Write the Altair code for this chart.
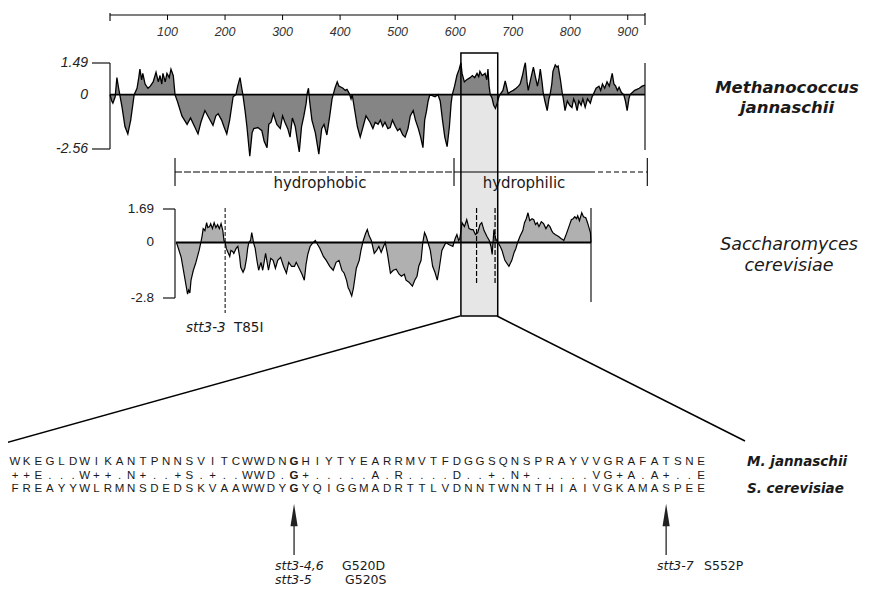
import altair as alt
import pandas as pd

W, H = 856, 578


def cx(px):
    return px - 8


def cy(py):
    return py - 8


SANS = "Liberation Sans"
WIDE = "DejaVu Sans"

# ---------------- data ----------------
ruler_ticks = [100, 200, 300, 400, 500, 600, 700, 800, 900]
mj_len = 930
sc_len = 718

mj_pos = [0, 3, 5, 9, 12, 15, 17, 21, 26, 31, 36, 42, 47, 50, 52, 55, 57, 61, 66, 70, 75, 80, 84, 87, 90, 92, 96, 99,
          103, 106, 110, 113, 117, 125, 134, 140, 147, 153, 158, 165, 172, 179, 184, 188, 194, 198, 203, 208, 214, 219,
          222, 226, 229, 231, 235, 238, 243, 247, 250, 257, 264, 268, 273, 276, 280, 284, 290, 296, 300, 304, 309, 313,
          317, 322, 326, 329, 333, 337, 341, 343, 345, 347, 351, 357, 363, 368, 372, 377, 382, 386, 388, 391, 395, 398,
          402, 405, 409, 412, 416, 419, 421, 424, 430, 435, 440, 445, 452, 457, 461, 466, 470, 474, 478, 483, 487, 491,
          496, 500, 504, 509, 513, 518, 522, 527, 531, 536, 540, 544, 547, 550, 553, 556, 565, 570, 574, 578, 582, 586,
          590, 593, 595, 599, 603, 607, 610, 612, 616, 620, 626, 630, 634, 638, 641, 643, 647, 652, 655, 657, 659, 661,
          664, 667, 670, 673, 676, 678, 683, 687, 690, 692, 697, 701, 706, 710, 713, 717, 720, 722, 725, 727, 731, 736,
          739, 743, 746, 748, 751, 753, 756, 760, 763, 765, 768, 770, 774, 777, 779, 783, 786, 788, 791, 795, 799, 803,
          806, 809, 812, 815, 819, 822, 826, 830, 835, 838, 840, 845, 850, 853, 856, 860, 864, 868, 873, 876, 879, 882,
          885, 889, 893, 896, 899, 902, 904, 908, 912, 916, 920, 925, 930]
mj_hyd = [0, -0.3, -0.4, -0.1, 0.8, 0.3, 0, -0.6, -1.5, -1.85, -1.2, 0, 0.3, 0.8, 1.2, 0.7, 1.0, 0.5, 0.3, 0.4, 0.6,
          1.05, 0.6, 0.9, 0.5, 1.0, 0.6, 1.0, 0.8, 1.2, 0.9, 0, -0.3, -1.0, -1.4, -1.1, -1.5, -1.85, -1.3, -0.75, -1.1,
          -1.45, -1.0, -0.9, -1.2, -1.5, -1.85, -1.2, -0.1, 0, 0.4, 0.8, 0.3, 0, -0.8, -1.5, -2.9, -1.8, -1.6, -1.55,
          -1.7, -2.2, -2.5, -1.4, -1.3, -0.9, -1.4, -1.6, -1.0, -1.3, -1.6, -2.0, -1.1, -1.5, -2.2, -2.7, -1.5, -1.0,
          -0.4, 0.1, 0.3, -0.3, -1.2, -1.8, -2.8, -1.6, -1.4, -1.9, -1.0, -0.2, 0, 0.3, 0.6, 0.4, 0.35, 0.3, 0.2, 0.25,
          0.05, -0.2, 0, -0.5, -1.5, -2.0, -1.5, -1.0, -1.3, -1.6, -1.3, -1.4, -1.2, -1.5, -1.3, -1.6, -1.55, -1.2,
          -1.5, -1.7, -1.6, -1.9, -2.0, -1.6, -1.0, -0.75, -1.2, -1.6, -2.0, -2.5, -1.2, -0.8, -0.3, 0, -0.1, 0, -0.3,
          -1.2, -2.0, -2.45, -1.5, -0.4, 0, 0.4, 0.9, 1.2, 1.5, 1.0, 0.6, 0.7, 0.8, 0.9, 0.8, 1.0, 0.85, 1.1, 0.9, 1.0,
          0.7, 1.2, 0.4, 0, -0.15, -0.5, -0.65, -0.4, -0.1, 0, 0.2, 0.65, 0.3, 0.05, 0.15, 0.2, 0.3, 0.4, 0.5, 0.9,
          1.3, 1.5, 0.6, 0.2, 0.7, 1.3, 0.9, 0.4, 0.8, 1.2, 0.6, 0.1, -0.3, -0.75, -0.2, 0, 0.5, 1.1, 1.4, 1.3, 1.35,
          0.7, 0.1, -0.2, -0.75, -0.3, -0.5, -0.6, -0.2, -0.4, -0.75, -0.3, -0.5, -0.2, -0.6, -0.2, -0.4, -0.1, 0, 0.3,
          0.4, 0.2, 0.5, 0.3, 0.6, 0.4, 1.0, 0.5, 0.4, 0.2, 0.35, 0.1, 0, -0.3, -0.75, -0.2, 0, 0.1, 0.2, 0.25, 0.3,
          0.4, 0.45]

sc_pos = [0, 2, 9, 14, 17, 20, 22, 24, 26, 30, 34, 40, 43, 45, 47, 50, 53, 55, 58, 60, 63, 66, 69, 72, 75, 78, 81,
          83, 85, 87, 90, 93, 95, 98, 100, 104, 107, 110, 112, 116, 119, 122, 124, 126, 129, 131, 133, 134, 137, 140,
          143, 147, 150, 153, 155, 160, 164, 168, 172, 176, 181, 186, 191, 195, 200, 205, 208, 213, 218, 222, 225,
          228, 232, 236, 241, 245, 249, 255, 260, 266, 272, 277, 282, 287, 291, 295, 298, 300, 304, 307, 312, 317,
          320, 324, 328, 331, 334, 338, 343, 347, 351, 355, 359, 362, 366, 371, 376, 381, 386, 390, 395, 398, 403,
          409, 413, 417, 420, 424, 427, 430, 433, 436, 440, 444, 448, 452, 455, 460, 467, 472, 479, 483, 486, 489,
          491, 495, 499, 503, 507, 511, 514, 518, 522, 526, 529, 533, 538, 542, 545, 547, 549, 550, 553, 557, 561,
          564, 569, 576, 581, 585, 588, 591, 595, 600, 603, 606, 609, 612, 616, 619, 622, 625, 628, 632, 636, 640,
          644, 647, 650, 652, 656, 659, 662, 666, 669, 671, 675, 678, 681, 684, 687, 690, 693, 695, 698, 702, 705,
          709, 712, 715, 717, 718]
sc_hyd = [0, -0.1, -0.75, -1.6, -2.1, -2.6, -2.4, -2.55, -1.9, -1.4, -1.05, -0.4, 0, 0.3, 0.7, 0.6, 1.0, 0.75, 0.8,
          0.95, 0.7, 1.0, 0.75, 0.9, 0.7, 0.95, 0.6, 0.1, 0, -0.3, -0.5, -0.7, -0.4, -0.45, -0.55, -0.3, -0.2, -0.7,
          -1.25, -1.5, -1.3, -0.8, -0.3, 0, 0.1, 0.5, 0.2, 0, -0.3, -0.9, -1.4, -1.0, -1.4, -0.9, -0.55, -1.4, -0.8,
          -0.9, -1.3, -0.9, -0.75, -1.2, -1.55, -1.0, -1.2, -1.2, -1.0, -1.3, -1.6, -1.9, -1.1, -0.6, -0.2, -0.05,
          0.1, -0.1, -0.3, -0.7, -0.9, -1.2, -1.4, -1.0, -0.9, -1.4, -1.55, -1.9, -2.3, -2.4, -2.7, -2.3, -1.3, -0.9,
          -0.4, 0.1, 0.45, 0.65, 0.35, 0.1, -0.55, -0.4, -0.2, -0.5, -0.2, 0, -0.6, -1.55, -1.4, -1.35, -1.6, -1.7,
          -1.6, -1.9, -2.0, -2.2, -1.9, -1.7, -1.2, -0.9, 0, 0.5, 0.3, 0, -0.4, -1.2, -1.5, -1.9, -1.4, -0.4, 0, -0.1,
          -0.2, 0.2, 0.4, 0.1, 0.2, 1.0, 0.8, 1.15, 0.7, 0.65, 0.65, 0.4, 0.5, 0.9, 1.0, 0.6, 0.3, 0.1, -0.2, -0.6,
          0.2, 0.65, 0.2, 0, -0.2, -0.4, -0.9, -1.2, -0.9, -0.5, -0.3, 0, 0.3, 0.6, 1.0, 1.2, 1.5, 1.1, 1.2, 1.15,
          0.9, 1.0, 0.8, 1.05, 0.95, 0.7, 0.9, 0.8, 0.6, 0.5, 0.4, 0.35, 0.3, 0.2, 0.15, 0.1, 0.4, 0.65, 0.9, 1.15,
          1.2, 1.3, 1.2, 1.35, 1.1, 1.5, 1.3, 1.25, 1.0, 0.7, 0.5, 0]

mj_axis_vals = [1.49, 0, -2.56]
mj_axis_text = ["1.49", "0", "-2.56"]
sc_axis_vals = [1.69, 0, -2.8]
sc_axis_text = ["1.69", "0", "-2.8"]
sc_mutation_t85 = [85]
sc_mutations_box = [520, 552]
box_range = [610, 674]
bracket_split = [113, 598, 934]

mj_align = "WKEGLDWIKANTPNNSVITCWWDNGHIYTYEARRMVTFDGGSQNSPRAYVVGRAFATSNE"
match_align = "++E...W++.N+..+S.+..WWD.G+.....A.R....D..+.N+.....VG+A.A+..E"
sc_align = "FREAYYWLRMNSDEDSKVAAWWDYGYQIGGMADRTTLVDNNTWNNTHIAIVGKAMASPEE"
arrow_cols = [25, 57]

# ---------------- scales ----------------
MJ_X = alt.Scale(domain=[0, mj_len], range=[cx(110), cx(645)], nice=False, zero=False)
SC_X = alt.Scale(domain=[0, sc_len], range=[cx(176), cx(591)], nice=False, zero=False)
MJ_Y = alt.Scale(domain=[-2.56, 1.49], range=[cy(149), cy(63)], nice=False, zero=False)
SC_Y = alt.Scale(domain=[-2.8, 1.69], range=[cy(298), cy(209)], nice=False, zero=False)
COL_X = alt.Scale(domain=[1, 60], range=[cx(15), cx(701)], nice=False, zero=False)

one = pd.DataFrame({"d": [0]})


def seg(x1, y1, x2, y2, width=1.2, dash=None, color="black"):
    props = dict(color=color, strokeWidth=width)
    if dash:
        props["strokeDash"] = dash
    return alt.Chart(one).mark_rule(**props).encode(
        x=alt.value(cx(x1)), y=alt.value(cy(y1)), x2=alt.value(cx(x2)), y2=alt.value(cy(y2)))


def label(txt, x, y, size=12, style="normal", weight="normal", align="left", color="#1a1a1a", font=SANS):
    return alt.Chart(pd.DataFrame({"t": [txt]})).mark_text(
        align=align, baseline="middle", fontSize=size, fontStyle=style, fontWeight=weight,
        font=font, color=color).encode(x=alt.value(cx(x)), y=alt.value(cy(y)), text="t:N")


layers = []

# stippled zoom window (background)
box_df = pd.DataFrame({"a": [box_range[0]], "b": [box_range[1]]})
layers.append(alt.Chart(box_df).mark_rect(color="#e6e6e6").encode(
    x=alt.X("a:Q", scale=MJ_X, axis=None), x2="b:Q",
    y=alt.value(cy(94)), y2=alt.value(cy(316))))

# top ruler
layers.append(seg(110, 15, 645, 15, width=1.1))
rt = pd.DataFrame({"p": ruler_ticks, "t": [str(v) for v in ruler_ticks]})
layers.append(alt.Chart(rt).mark_rule(color="black", strokeWidth=1).encode(
    x=alt.X("p:Q", scale=MJ_X, axis=None), y=alt.value(cy(15)), y2=alt.value(cy(20))))
layers.append(alt.Chart(rt).mark_text(fontSize=12.5, fontStyle="italic", font=SANS, color="#333",
                                      baseline="middle").encode(
    x=alt.X("p:Q", scale=MJ_X, axis=None), y=alt.value(cy(32)), text="t:N"))
layers.append(seg(645, 13, 645, 25, width=1.1))
layers.append(seg(110, 13, 110, 21, width=1.1))

# M. jannaschii hydropathy
mj_df = pd.DataFrame({"pos": mj_pos, "hyd": mj_hyd, "zero": [0] * len(mj_pos)})
layers.append(alt.Chart(mj_df).mark_area(color="#858585").encode(
    x=alt.X("pos:Q", scale=MJ_X, axis=None), y=alt.Y("hyd:Q", scale=MJ_Y, axis=None), y2="zero:Q"))
layers.append(alt.Chart(mj_df).mark_line(color="black", strokeWidth=1.3).encode(
    x=alt.X("pos:Q", scale=MJ_X, axis=None), y=alt.Y("hyd:Q", scale=MJ_Y, axis=None)))
layers.append(alt.Chart(pd.DataFrame({"a": [0], "b": [mj_len], "z": [0]})).mark_rule(
    color="black", strokeWidth=1.8).encode(
    x=alt.X("a:Q", scale=MJ_X, axis=None), x2="b:Q", y=alt.Y("z:Q", scale=MJ_Y, axis=None)))
mja = pd.DataFrame({"v": mj_axis_vals, "t": mj_axis_text})
layers.append(alt.Chart(mja).mark_text(fontSize=14, fontStyle="italic", font=SANS, color="#222",
                                       align="right", baseline="middle").encode(
    x=alt.value(cx(88)), y=alt.Y("v:Q", scale=MJ_Y, axis=None), text="t:N"))
layers.append(alt.Chart(mja[mja.v != 0]).mark_rule(color="black", strokeWidth=1.1).encode(
    x=alt.value(cx(92)), x2=alt.value(cx(110)), y=alt.Y("v:Q", scale=MJ_Y, axis=None)))
layers.append(seg(110, 63, 110, 149, width=1.1))
layers.append(seg(645, 63, 645, 150, width=1.1))

# hydrophobic / hydrophilic bracket
layers.append(seg(175, 172, 454, 172, width=1.1, dash=[7, 2]))
layers.append(seg(454, 172, 590, 172, width=1.1))
layers.append(seg(590, 172, 647, 172, width=1.1, dash=[5, 3]))
bs = pd.DataFrame({"p": bracket_split})
layers.append(alt.Chart(bs).mark_rule(color="black", strokeWidth=1.1).encode(
    x=alt.X("p:Q", scale=MJ_X, axis=None), y=alt.value(cy(158)), y2=alt.value(cy(186))))
layers.append(label("hydrophobic", 320, 183, size=15, align="center", font=WIDE))
layers.append(label("hydrophilic", 524, 183, size=15, align="center", font=WIDE))

# S. cerevisiae hydropathy
sc_df = pd.DataFrame({"pos": sc_pos, "hyd": sc_hyd, "zero": [0] * len(sc_pos)})
layers.append(alt.Chart(sc_df).mark_area(color="#b0b0b0").encode(
    x=alt.X("pos:Q", scale=SC_X, axis=None), y=alt.Y("hyd:Q", scale=SC_Y, axis=None), y2="zero:Q"))
layers.append(alt.Chart(sc_df).mark_line(color="black", strokeWidth=1.2).encode(
    x=alt.X("pos:Q", scale=SC_X, axis=None), y=alt.Y("hyd:Q", scale=SC_Y, axis=None)))
layers.append(alt.Chart(pd.DataFrame({"a": [0], "b": [sc_len], "z": [0]})).mark_rule(
    color="black", strokeWidth=1.8).encode(
    x=alt.X("a:Q", scale=SC_X, axis=None), x2="b:Q", y=alt.Y("z:Q", scale=SC_Y, axis=None)))
sca = pd.DataFrame({"v": sc_axis_vals, "t": sc_axis_text})
layers.append(alt.Chart(sca).mark_text(fontSize=13.5, font=SANS, color="#222",
                                       align="right", baseline="middle").encode(
    x=alt.value(cx(154)), y=alt.Y("v:Q", scale=SC_Y, axis=None), text="t:N"))
layers.append(alt.Chart(sca[sca.v != 0]).mark_rule(color="black", strokeWidth=1.1).encode(
    x=alt.value(cx(163)), x2=alt.value(cx(175)), y=alt.Y("v:Q", scale=SC_Y, axis=None)))
layers.append(seg(175, 209, 175, 298, width=1.1))
layers.append(seg(591, 208, 591, 302, width=1.1))
layers.append(alt.Chart(pd.DataFrame({"p": sc_mutation_t85})).mark_rule(
    color="black", strokeWidth=1, strokeDash=[4, 2]).encode(
    x=alt.X("p:Q", scale=SC_X, axis=None), y=alt.value(cy(208)), y2=alt.value(cy(313))))
layers.append(alt.Chart(pd.DataFrame({"p": sc_mutations_box})).mark_rule(
    color="black", strokeWidth=1.2, strokeDash=[5, 2]).encode(
    x=alt.X("p:Q", scale=SC_X, axis=None), y=alt.value(cy(208)), y2=alt.value(cy(285))))
layers.append(label("stt3-3", 186, 328, size=13.5, style="italic", font=WIDE))
layers.append(label("T85I", 234, 328, size=13.5, font=WIDE))

# zoom window outline and zoom lines
layers.append(alt.Chart(box_df).mark_rect(fillOpacity=0, stroke="black", strokeWidth=1.5).encode(
    x=alt.X("a:Q", scale=MJ_X, axis=None), x2="b:Q",
    y=alt.value(cy(53)), y2=alt.value(cy(316))))
layers.append(seg(460, 316, 5, 443, width=1.5))
layers.append(seg(497, 316, 745, 441, width=1.5))

# species labels
layers.append(label("Methanococcus", 787, 88, size=16.5, style="italic", weight="bold", align="center", font=WIDE))
layers.append(label("jannaschii", 787, 108, size=16.5, style="italic", weight="bold", align="center", font=WIDE))
layers.append(label("Saccharomyces", 789, 245, size=17.5, style="italic", align="center", font=WIDE))
layers.append(label("cerevisiae", 789, 266, size=17.5, style="italic", align="center", font=WIDE))

# alignment
rows = [(mj_align, 462), (match_align, 475.5), (sc_align, 489)]
for seq, yy in rows:
    df = pd.DataFrame({"col": list(range(1, len(seq) + 1)), "ch": list(seq)})
    df["bold"] = df["col"] == 25
    for bold in (False, True):
        sub = df[df.bold == bold]
        layers.append(alt.Chart(sub).mark_text(
            fontSize=11.5, font=SANS, color="#1a1a1a", align="center", baseline="middle",
            fontWeight="bold" if bold else "normal").encode(
            x=alt.X("col:Q", scale=COL_X, axis=None), y=alt.value(cy(yy)), text="ch:N"))
layers.append(label("M. jannaschii", 747, 462, size=13.5, style="italic", weight="bold", font=WIDE))
layers.append(label("S. cerevisiae", 747, 489, size=13.5, style="italic", weight="bold", font=WIDE))

# arrows
ar = pd.DataFrame({"col": arrow_cols})
layers.append(alt.Chart(ar).mark_rule(color="black", strokeWidth=1.1).encode(
    x=alt.X("col:Q", scale=COL_X, axis=None), y=alt.value(cy(520)), y2=alt.value(cy(555))))
layers.append(alt.Chart(ar).mark_point(
    shape="M0,-1L0.32,1L-0.32,1Z", size=500, filled=True, color="#222", opacity=1).encode(
    x=alt.X("col:Q", scale=COL_X, axis=None), y=alt.value(cy(515))))

layers.append(label("stt3-4,6", 275, 566, size=12.5, style="italic", font=WIDE))
layers.append(label("G520D", 342, 566, size=12.5, font=WIDE))
layers.append(label("stt3-5", 275, 580, size=12.5, style="italic", font=WIDE))
layers.append(label("G520S", 345, 580, size=12.5, font=WIDE))
layers.append(label("stt3-7", 657, 566, size=12.5, style="italic", font=WIDE))
layers.append(label("S552P", 704, 566, size=12.5, font=WIDE))

chart = alt.layer(*layers).resolve_scale(x="independent", y="independent").properties(
    width=W, height=H, padding=0, autosize=alt.AutoSizeParams(type="none"),
    background="white").configure_view(stroke=None)

chart.save("out.html", embed_options={"renderer": "svg", "actions": False})
